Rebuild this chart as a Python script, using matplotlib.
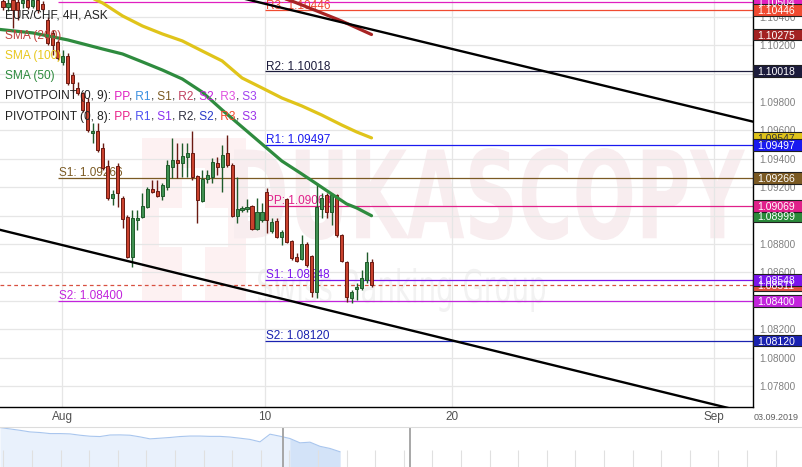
import numpy as np
import matplotlib
matplotlib.use("Agg")
import matplotlib.pyplot as plt
from matplotlib.patches import Rectangle, PathPatch
from matplotlib.textpath import TextPath
from matplotlib.font_manager import FontProperties
from matplotlib.transforms import Affine2D, blended_transform_factory, offset_copy

plt.rcParams["font.family"] = ["Liberation Sans", "DejaVu Sans"]

# EUR/CHF 4H ASK candles, one per bar (weekends skipped)
opens = [1.10511, 1.10469, 1.10520, 1.10504, 1.10497, 1.10520, 1.10476, 1.10518, 1.10490, 1.10377,
         1.10286, 1.10222, 1.10082, 1.10124, 1.09990, 1.09899, 1.09863, 1.09800, 1.09582, 1.09596,
         1.09476, 1.09349, 1.09124, 1.09349, 1.09124, 1.08990, 1.08708, 1.08969, 1.08990, 1.09061,
         1.09187, 1.09173, 1.09138, 1.09201, 1.09342, 1.09392, 1.09370, 1.09413, 1.09441, 1.09279,
         1.09103, 1.09258, 1.09272, 1.09370, 1.09342, 1.09441, 1.09356, 1.08997, 1.09039, 1.09046,
         1.09068, 1.08906, 1.08969, 1.09166, 1.08892, 1.08962, 1.08849, 1.09117, 1.08821, 1.08708,
         1.08694, 1.08800, 1.08715, 1.08462, 1.09046, 1.09145, 1.09025, 1.09145, 1.08863, 1.08673,
         1.08420, 1.08483, 1.08490, 1.08546, 1.08673]
highs = [1.10560, 1.10540, 1.10550, 1.10530, 1.10560, 1.10550, 1.10550, 1.10550, 1.10510, 1.10398,
         1.10307, 1.10237, 1.10166, 1.10145, 1.10011, 1.09941, 1.09870, 1.09828, 1.09652, 1.09652,
         1.09511, 1.09392, 1.09180, 1.09370, 1.09138, 1.09004, 1.09039, 1.09039, 1.09159, 1.09201,
         1.09251, 1.09251, 1.09230, 1.09392, 1.09546, 1.09511, 1.09511, 1.09511, 1.09596, 1.09286,
         1.09321, 1.09321, 1.09406, 1.09413, 1.09497, 1.09568, 1.09370, 1.09272, 1.09068, 1.09117,
         1.09075, 1.09124, 1.09089, 1.09194, 1.08983, 1.08983, 1.08899, 1.09124, 1.08828, 1.08737,
         1.08863, 1.08814, 1.08722, 1.09230, 1.09159, 1.09159, 1.09159, 1.09152, 1.08870, 1.08680,
         1.08476, 1.08525, 1.08617, 1.08744, 1.08694]
lows = [1.10448, 1.10440, 1.10321, 1.10377, 1.10462, 1.10455, 1.10462, 1.10427, 1.10440, 1.10201,
        1.10131, 1.10096, 1.10061, 1.09920, 1.09870, 1.09849, 1.09730, 1.09589, 1.09511, 1.09448,
        1.09321, 1.09110, 1.09075, 1.09061, 1.08913, 1.08701, 1.08638, 1.08899, 1.08983, 1.09054,
        1.09159, 1.09131, 1.09110, 1.09180, 1.09265, 1.09265, 1.09272, 1.09272, 1.09251, 1.08948,
        1.09096, 1.09230, 1.09230, 1.09286, 1.09166, 1.09342, 1.08990, 1.08948, 1.09025, 1.09025,
        1.08899, 1.08899, 1.08955, 1.08877, 1.08877, 1.08842, 1.08793, 1.08807, 1.08687, 1.08673,
        1.08687, 1.08638, 1.08427, 1.08420, 1.08983, 1.08983, 1.08934, 1.08849, 1.08673, 1.08392,
        1.08384, 1.08406, 1.08476, 1.08525, 1.08497]
closes = [1.10469, 1.10500, 1.10448, 1.10448, 1.10520, 1.10469, 1.10518, 1.10448, 1.10455, 1.10215,
          1.10201, 1.10110, 1.10124, 1.09934, 1.09934, 1.09863, 1.09744, 1.09603, 1.09596, 1.09462,
          1.09335, 1.09124, 1.09152, 1.09159, 1.08976, 1.08708, 1.08983, 1.08983, 1.09068, 1.09187,
          1.09166, 1.09138, 1.09215, 1.09356, 1.09392, 1.09370, 1.09420, 1.09441, 1.09272, 1.09110,
          1.09258, 1.09286, 1.09377, 1.09342, 1.09427, 1.09356, 1.08997, 1.09046, 1.09054, 1.09061,
          1.08906, 1.09025, 1.09025, 1.08969, 1.08955, 1.08849, 1.08885, 1.08814, 1.08701, 1.08680,
          1.08800, 1.08652, 1.08462, 1.09061, 1.09124, 1.09025, 1.09145, 1.08863, 1.08680, 1.08427,
          1.08462, 1.08497, 1.08561, 1.08673, 1.08511]

# moving averages (bar index -> value)
sma50_bars = [-1, 6, 13, 20, 24, 28, 32, 36, 40, 44, 48, 52, 56, 60, 63, 66, 69, 71, 74]
sma50_vals = [1.10312, 1.10286, 1.10237, 1.10173, 1.10138, 1.10082, 1.10025, 1.09962, 1.09870, 1.09744,
              1.09624, 1.09504, 1.09384, 1.09293, 1.09223, 1.09152, 1.09082, 1.09054, 1.08999]
sma100_bars = [17, 20, 24, 28, 32, 36, 40, 44, 48, 52, 56, 60, 64, 68, 71, 74]
sma100_vals = [1.10546, 1.10497, 1.10406, 1.10335, 1.10279, 1.10230, 1.10159, 1.10089, 1.09969, 1.09899,
               1.09828, 1.09772, 1.09708, 1.09638, 1.09589, 1.09547]
sma200_bars = [55, 58, 63, 68, 74]
sma200_vals = [1.10545, 1.10511, 1.10441, 1.10370, 1.10275]

# trend channel
upper_bars = [45, 151]
upper_vals = [1.10556, 1.09658]
lower_bars = [-1, 151]
lower_vals = [1.08903, 1.07599]

# pivot points
p9_start = 11.0
p9_names = ["PP", "S1", "S2"]
p9_values = [1.10504, 1.09266, 1.08400]
p8_start = 52.6
p8_names = ["R3", "R2", "R1", "PP", "S1", "S2"]
p8_values = [1.10446, 1.10018, 1.09497, 1.09069, 1.08548, 1.08120]

p9_col = {"PP": "#e020c0", "R1": "#3a8fe0", "S1": "#7b5a23", "R2": "#c04060",
          "S2": "#c224dc", "R3": "#e050e0", "S3": "#a040f0"}
p8_col = {"PP": "#e0208a", "R1": "#1a1af0", "S1": "#7a14ec", "R2": "#1c1c3c",
          "S2": "#1a22b0", "R3": "#f04a30", "S3": "#9a30e8"}
p8_legend = {"PP": "#e8208a", "R1": "#4a50f0", "S1": "#8a30f0", "R2": "#303040",
             "S2": "#2a3ac8", "R3": "#f04a30", "S3": "#9a30e8"}
pivot_order = ["PP", "R1", "S1", "R2", "S2", "R3", "S3"]

tick_bars = [11.85, 52.6, 90.2, 142.8]
tick_labels = ["Aug", "10", "20", "Sep"]
y_ticks = np.arange(1.078, 1.1045, 0.002)

# navigator history
nav_prices = [1.1295, 1.1270, 1.1245, 1.1216, 1.1205, 1.1186, 1.1186, 1.1180, 1.1156, 1.1138,
              1.1132, 1.1160, 1.1162, 1.1156, 1.1126, 1.1090, 1.1102, 1.1115, 1.1132, 1.1141,
              1.1141, 1.1135, 1.1135, 1.1123, 1.1102, 1.1080, 1.1036, 1.1175, 1.1138, 1.1096,
              1.1018, 1.1030, 1.0955, 1.0916, 1.0856]

W, H = 803, 467
ymin, ymax = 1.07652, 1.10518
xmin, xmax = -3 / 4.98, 750 / 4.98

fig = plt.figure(figsize=(W / 100, H / 100), dpi=100)
ax = fig.add_axes([0, 60 / H, 753 / W, 407 / H])
ax.set_xlim(xmin, xmax)
ax.set_ylim(ymin, ymax)
ax.set_autoscale_on(False)


def px_rect(x0, y0, x1, y1, color, z):
    ax.add_artist(Rectangle((x0 / W, 1 - y1 / H), (x1 - x0) / W, (y1 - y0) / H,
                            transform=fig.transFigure, fc=color, ec="none", zorder=z))


def px_text(s, x0, y0, x1, y1, color, weight, z):
    tp = TextPath((0, 0), s, size=50, prop=FontProperties(family="DejaVu Sans", weight=weight))
    bb = tp.get_extents()
    tr = (Affine2D().translate(-bb.x0, -bb.y0)
          .scale((x1 - x0) / bb.width / W, (y1 - y0) / bb.height / H)
          .translate(x0 / W, 1 - y1 / H)) + fig.transFigure
    ax.add_artist(PathPatch(tp, transform=tr, fc=color, ec="none", zorder=z))


# watermark
px_rect(142, 138, 246, 300, "#fdf1f2", 0.1)
px_rect(182, 168, 205, 300, "white", 0.11)
px_rect(159, 208, 228, 247, "white", 0.11)
px_text("DUKASCOPY", 234, 148, 745, 240, "#f8edef", "bold", 0.15)
px_text("Swiss Banking Group", 258, 268, 545, 312, "#f2f2f2", "normal", 0.15)

# grid
ax.set_axisbelow(True)
ax.set_xticks(tick_bars)
ax.set_xticklabels(tick_labels)
ax.set_yticks(y_ticks)
ax.set_yticklabels([f"{v:.5f}" for v in y_ticks])
ax.grid(True, color="#e6e6e6", lw=0.9)
ax.yaxis.tick_right()
ax.tick_params(axis="y", length=0, pad=4.3, labelsize=7.2, labelcolor="#808080")
ax.tick_params(axis="x", length=0, pad=3, labelsize=8.5, labelcolor="#505050")
for s in ["left", "top"]:
    ax.spines[s].set_visible(False)
for s in ["right", "bottom"]:
    ax.spines[s].set_color("black")
    ax.spines[s].set_linewidth(1.0)
    ax.spines[s].set_zorder(6)

# candles
o, h, l, c = map(np.array, (opens, highs, lows, closes))
idx = np.arange(len(o))
up = c >= o
lo = np.minimum(o, c)
bh = np.maximum(np.abs(c - o), 0.00003)
ax.vlines(idx[up], l[up], h[up], color="#1f5a2a", lw=1, zorder=2)
ax.vlines(idx[~up], l[~up], h[~up], color="#6a1a12", lw=1, zorder=2)
ax.bar(idx[up], bh[up], bottom=lo[up], width=0.62, color="#3f8f50",
       edgecolor="#1f5a2a", lw=0.7, zorder=3)
ax.bar(idx[~up], bh[~up], bottom=lo[~up], width=0.62, color="#c9412d",
       edgecolor="#6a1a12", lw=0.7, zorder=3)

# pivot lines + labels
lab_tr = offset_copy(ax.transData, fig=fig, y=1.5, units="dots")
for start, names, vals, cols in [(p9_start, p9_names, p9_values, p9_col),
                                 (p8_start, p8_names, p8_values, p8_col)]:
    for n, v in zip(names, vals):
        ax.hlines(v, start, xmax, color=cols[n], lw=0.9, zorder=1.5)
        ax.text(start + 0.3, v, f"{n}: {v:.5f}", transform=lab_tr, color=cols[n],
                fontsize=8.5, ha="left", va="baseline", zorder=1.6)

# current price
ax.axhline(closes[-1], color="#d85040", lw=0.9, ls=(0, (3, 2.5)), zorder=1.7)

# moving averages
ax.plot(sma200_bars, sma200_vals, color="#a82424", lw=2.3, zorder=4, solid_capstyle="round")
ax.plot(sma100_bars, sma100_vals, color="#e0c41a", lw=2.3, zorder=4, solid_capstyle="round")
ax.plot(sma50_bars, sma50_vals, color="#2e8b3e", lw=2.3, zorder=4, solid_capstyle="round")

# trend channel
ax.plot(upper_bars, upper_vals, color="black", lw=1.7, zorder=5)
ax.plot(lower_bars, lower_vals, color="black", lw=1.7, zorder=5)

# price tags on the right
blend = blended_transform_factory(ax.transAxes, ax.transData)
ppv = 407 / (ymax - ymin)


def tag(v, fc, tc="white"):
    hh = 5.8 / ppv
    ax.add_patch(Rectangle((1.0, v - hh), 50 / 753, 2 * hh, transform=blend, fc=fc,
                           ec="#202020", lw=0.8, clip_on=False, zorder=10))
    ax.text(1.0 + 23 / 753, v, f"{v:.5f}", transform=blend, ha="center", va="center_baseline",
            color=tc, fontsize=7.5, clip_on=False, zorder=11)


tag(sma200_vals[-1], "#a32222")
tag(sma100_vals[-1], "#e0c41a", "#333333")
tag(sma50_vals[-1], "#2a8a3a")
tag(closes[-1], "#e05040")
for n, v in zip(p9_names, p9_values):
    tag(v, p9_col[n])
for n, v in zip(p8_names, p8_values):
    tag(v, p8_col[n])

# legend block
fig.text(5 / W, 1 - 15.7 / H, "EUR/CHF, 4H, ASK", color="#222222", fontsize=8.6, va="center")
fig.text(5 / W, 1 - 35.9 / H, "SMA (200)", color="#c0403c", fontsize=8.6, va="center")
fig.text(5 / W, 1 - 56.1 / H, "SMA (100)", color="#e8c81e", fontsize=8.6, va="center")
fig.text(5 / W, 1 - 76.3 / H, "SMA (50)", color="#2e8b3e", fontsize=8.6, va="center")

renderer = fig.canvas.get_renderer()
lp = FontProperties(family=["Liberation Sans", "DejaVu Sans"], size=8.6)


def pivot_row(y, head, cols):
    segs = [(head + ":", "#222222")]
    for k, n in enumerate(pivot_order):
        if k:
            segs.append((",", "#222222"))
        segs.append((" " + n, cols[n]))
    s = ""
    for seg, col in segs:
        s += seg
        w = renderer.get_text_width_height_descent(s, lp, ismath=False)[0]
        fig.text((5 + w) / W, 1 - y / H, seg, color=col, fontproperties=lp,
                 ha="right", va="center")


pivot_row(96.5, "PIVOTPOINT (0, 9)", p9_col)
pivot_row(116.7, "PIVOTPOINT (0, 8)", p8_legend)

fig.text(776 / W, 1 - 417 / H, "03.09.2019", fontsize=6.5, color="#606060",
         ha="center", va="center")

# navigator
nav = fig.add_axes([0, 0, 1, 40 / H])
n = len(nav_prices)
nx = np.arange(n)
nav.set_xlim(0, (n - 1) * W / 340)
nav.set_ylim(1.058, 1.1305)
nav.fill_between(nx, nav_prices, 1.058, color="#e9f1fc", lw=0)
sel = nx * 340 / (n - 1) >= 283
nav.fill_between(nx, nav_prices, 1.058, where=sel, color="#d3e3f8", lw=0)
nav.plot(nx, nav_prices, color="#a9c6ee", lw=0.8)
nav.vlines(np.arange(3.4, W, 28.6) / W, 0, 0.42, transform=nav.transAxes,
           color="#e0e0e0", lw=0.8)
for hx in [283, 410]:
    nav.plot([hx / W, hx / W], [0, 1], transform=nav.transAxes, color="#a0a0a0", lw=1.3)
nav.set_xticks([])
nav.set_yticks([])
for s in ["left", "right", "bottom"]:
    nav.spines[s].set_visible(False)
nav.spines["top"].set_color("#dcdcdc")

fig.savefig("out.png", dpi=100)
